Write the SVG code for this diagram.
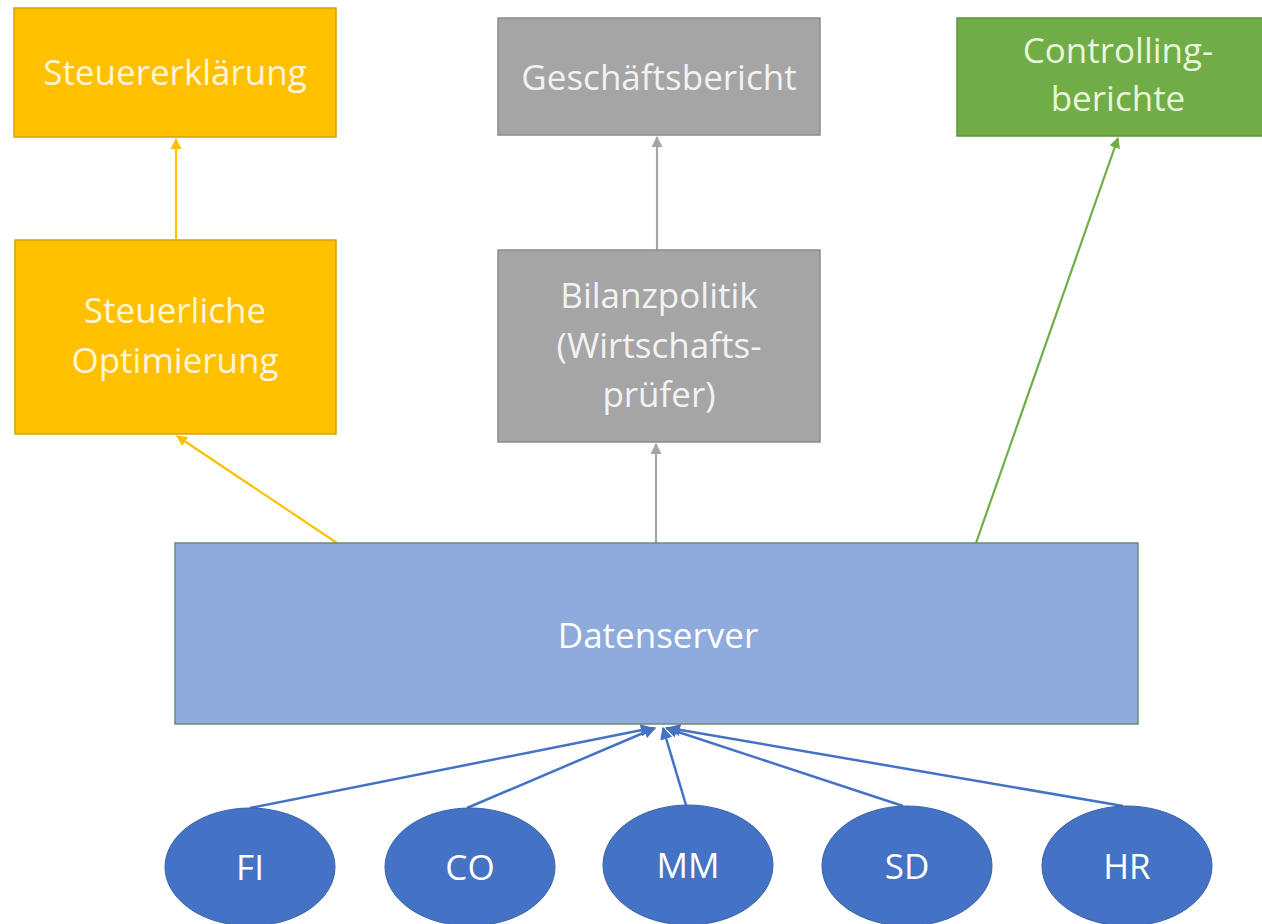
<svg xmlns="http://www.w3.org/2000/svg" width="1262" height="924" viewBox="0 0 1262 924">
<style>
text{font-family:"Open Sans","Liberation Sans",sans-serif;font-size:35px;fill:#fff;text-anchor:middle}
.ty{fill:#FFF6D8}
.tg{fill:#F2F2F2}
.tgr{fill:#E8F5DA}
.y{fill:#FFC000;stroke:#D9A300;stroke-width:1.5}
.g{fill:#A5A5A5;stroke:#8C8C8C;stroke-width:1.5}
.gr{fill:#70AD47;stroke:#5F933C;stroke-width:1.5}
.b{fill:#8FAADC;stroke:#6E8A7A;stroke-width:1.5}
.e{fill:#4472C4;stroke:#3A62A8;stroke-width:1}
.cy{stroke:#FFC000;stroke-width:2.2;fill:none;marker-end:url(#ay)}
.cg{stroke:#A5A5A5;stroke-width:2.2;fill:none;marker-end:url(#ag)}
.cgr{stroke:#70AD47;stroke-width:2.2;fill:none;marker-end:url(#agr)}
.cb{stroke:#4472C4;stroke-width:2.5;fill:none;marker-end:url(#ab)}
</style>
<defs>
<marker id="ay" markerWidth="5" markerHeight="5" refX="4.5" refY="2.5" orient="auto" markerUnits="strokeWidth"><path d="M0,0 L5,2.5 L0,5 z" fill="#FFC000"/></marker>
<marker id="ag" markerWidth="5" markerHeight="5" refX="4.5" refY="2.5" orient="auto" markerUnits="strokeWidth"><path d="M0,0 L5,2.5 L0,5 z" fill="#A5A5A5"/></marker>
<marker id="agr" markerWidth="5" markerHeight="5" refX="4.5" refY="2.5" orient="auto" markerUnits="strokeWidth"><path d="M0,0 L5,2.5 L0,5 z" fill="#70AD47"/></marker>
<marker id="ab" markerWidth="5" markerHeight="5" refX="4.5" refY="2.5" orient="auto" markerUnits="strokeWidth"><path d="M0,0 L5,2.5 L0,5 z" fill="#4472C4"/></marker>
</defs>
<g id="connectors">
<line class="cy" x1="176" y1="240" x2="176" y2="139"/>
<line class="cy" x1="337" y1="543" x2="177" y2="436"/>
<line class="cg" x1="657" y1="250" x2="657" y2="137"/>
<line class="cg" x1="656" y1="543" x2="656" y2="444"/>
<line class="cgr" x1="976" y1="543" x2="1118" y2="138"/>
<line class="cb" x1="250" y1="808" x2="652" y2="728"/>
<line class="cb" x1="467" y1="808" x2="655" y2="728"/>
<line class="cb" x1="686" y1="805" x2="663" y2="728"/>
<line class="cb" x1="903" y1="806" x2="666" y2="728"/>
<line class="cb" x1="1123" y1="806" x2="669" y2="728"/>
</g>
<g id="steuererklaerung"><rect class="y" x="14" y="8" width="322" height="129"/><text class="ty" x="175" y="85">Steuererklärung</text></g>
<g id="steuerliche-optimierung"><rect class="y" x="15" y="240" width="321" height="194"/><text class="ty" x="175" y="323">Steuerliche</text><text class="ty" x="175" y="373">Optimierung</text></g>
<g id="geschaeftsbericht"><rect class="g" x="498" y="18" width="322" height="117"/><text class="tg" x="659" y="90">Geschäftsbericht</text></g>
<g id="bilanzpolitik"><rect class="g" x="498" y="250" width="322" height="192"/><text class="tg" x="659" y="308">Bilanzpolitik</text><text class="tg" x="659" y="358">(Wirtschafts-</text><text class="tg" x="659" y="407">prüfer)</text></g>
<g id="controllingberichte"><rect class="gr" x="957" y="18" width="310" height="118"/><text class="tgr" x="1118" y="63">Controlling-</text><text class="tgr" x="1118" y="111">berichte</text></g>
<g id="datenserver"><rect class="b" x="175" y="543" width="963" height="181"/><text x="658" y="648">Datenserver</text></g>
<g id="fi"><ellipse class="e" cx="250" cy="867" rx="85" ry="59"/><text x="250" y="880">FI</text></g>
<g id="co"><ellipse class="e" cx="470" cy="867" rx="85" ry="59"/><text x="470" y="880">CO</text></g>
<g id="mm"><ellipse class="e" cx="688" cy="865" rx="85" ry="60"/><text x="688" y="878">MM</text></g>
<g id="sd"><ellipse class="e" cx="907" cy="866" rx="85" ry="60"/><text x="907" y="879">SD</text></g>
<g id="hr"><ellipse class="e" cx="1127" cy="866" rx="85" ry="60"/><text x="1127" y="879">HR</text></g>
</svg>
